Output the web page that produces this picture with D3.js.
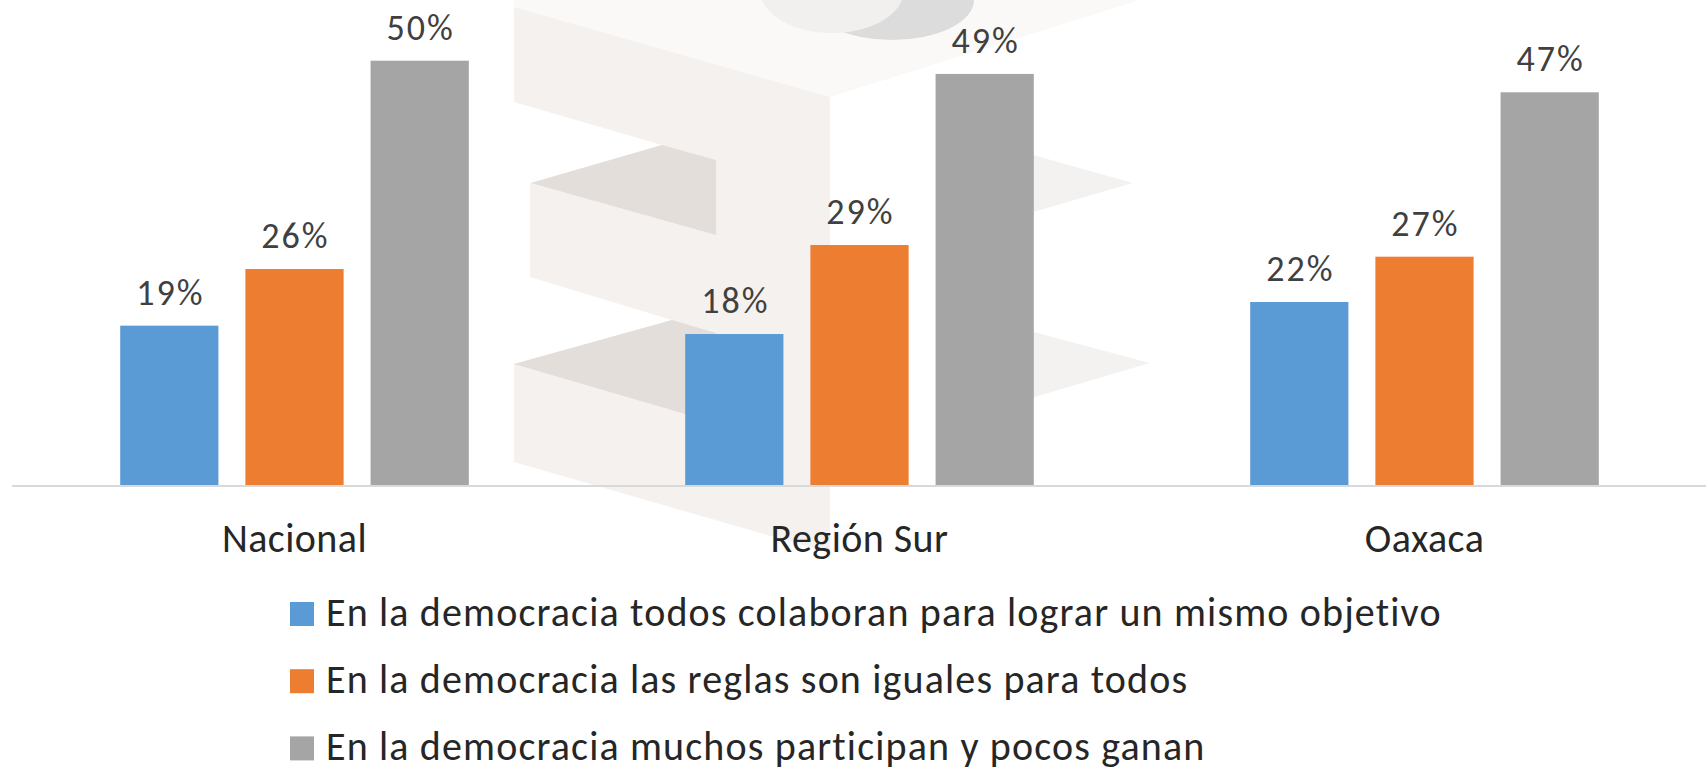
<!DOCTYPE html>
<html>
<head>
<meta charset="utf-8">
<script src="https://cdn.jsdelivr.net/npm/d3@7"></script>
<style>
  html, body { margin: 0; padding: 0; background: #fff; }
  svg text { font-family: Carlito, Lato, "Open Sans", sans-serif; }
</style>
</head>
<body>
<div id="chart"></div>
<script>
// categories and series
const categories = ["Nacional", "Región Sur", "Oaxaca"];
const seriesNames = [
  "En la democracia todos colaboran para lograr un mismo objetivo",
  "En la democracia las reglas son iguales para todos",
  "En la democracia muchos participan y pocos ganan"
];
const todosColaboran = [0.1897, 0.1798, 0.2177];
const reglasIguales = [0.2567, 0.2851, 0.2713];
const pocosGanan = [0.5032, 0.4875, 0.4658];
const colors = ["#5B9BD5", "#ED7D31", "#A5A5A5"];

const seriesValues = [todosColaboran, reglasIguales, pocosGanan];

const width = 1706, height = 768;
const baseY = 486;

const svg = d3.select("#chart").append("svg")
  .attr("width", width)
  .attr("height", height);

// faint logo watermark behind the middle group
const wm = svg.append("g").attr("class", "watermark");
wm.append("polygon")
  .attr("points", "514,0 514,7 830,97 1140,0")
  .attr("fill", "#fbf9f8");
wm.append("polygon")
  .attr("points", "514,7 830,97 830,553 514,462 514,364 672,320 530,277 530,183 662,145 514,102")
  .attr("fill", "#f4f1ef");
wm.append("polygon")
  .attr("points", "531,183 662,145 716,160 716,235")
  .attr("fill", "#e4dedb");
wm.append("polygon")
  .attr("points", "514,364 672,320 716,333 716,423")
  .attr("fill", "#e4dedb");
wm.append("polygon")
  .attr("points", "940,129 1133,183 940,239")
  .attr("fill", "#f4f2f1");
wm.append("polygon")
  .attr("points", "940,307 1150,363 940,425")
  .attr("fill", "#f4f2f1");
wm.append("ellipse")
  .attr("cx", 892).attr("cy", 0).attr("rx", 82).attr("ry", 40)
  .attr("fill", "#dcdcdc");
wm.append("ellipse")
  .attr("cx", 832).attr("cy", -10).attr("rx", 72).attr("ry", 43)
  .attr("fill", "#f2f0ee");

const x0 = d3.scaleBand()
  .domain(categories)
  .range([12, 1707])
  .paddingInner(0.383)
  .paddingOuter(0.1915);

const x1 = d3.scaleBand()
  .domain(d3.range(seriesNames.length))
  .range([0, x0.bandwidth()])
  .paddingInner(0.2155)
  .paddingOuter(0);

const y = d3.scaleLinear()
  .domain([0, 0.575])
  .range([baseY, 0]);

const fmt = d3.format(".0%");

const groups = svg.selectAll("g.cat")
  .data(categories)
  .join("g")
  .attr("class", "cat")
  .attr("transform", d => `translate(${x0(d)},0)`);

groups.selectAll("rect")
  .data((d, i) => seriesValues.map((vals, s) => ({s: s, v: vals[i]})))
  .join("rect")
  .attr("x", d => x1(d.s))
  .attr("y", d => y(d.v))
  .attr("width", x1.bandwidth())
  .attr("height", d => baseY - y(d.v))
  .attr("fill", d => colors[d.s]);

groups.selectAll("text.lbl")
  .data((d, i) => seriesValues.map((vals, s) => ({s: s, v: vals[i]})))
  .join("text")
  .attr("class", "lbl")
  .attr("x", d => x1(d.s) + x1.bandwidth() / 2)
  .attr("y", d => y(d.v) - 21)
  .attr("dx", 1)
  .attr("text-anchor", "middle")
  .style("font-size", "36px")
  .style("letter-spacing", "2px")
  .style("fill", "#404040")
  .text(d => fmt(d.v));

// category axis: only the baseline and the labels, no ticks
const xAxis = svg.append("g")
  .attr("transform", `translate(0,${baseY})`)
  .call(d3.axisBottom(x0).tickSize(0).tickPadding(0));
xAxis.select(".domain")
  .attr("d", "M12,0H1706")
  .attr("stroke", "#d9d9d9")
  .attr("stroke-width", 2);
xAxis.selectAll(".tick text")
  .attr("dy", null)
  .attr("y", 66)
  .style("font-size", "40px")
  .style("letter-spacing", "0.45px")
  .style("fill", "#262626");

// legend, one entry per row
const legend = svg.append("g").attr("class", "legend");
const rows = legend.selectAll("g")
  .data(seriesNames)
  .join("g")
  .attr("transform", (d, i) => `translate(290,${626 + i * 67.2})`);
rows.append("rect")
  .attr("x", 0)
  .attr("y", -24)
  .attr("width", 24)
  .attr("height", 24)
  .attr("fill", (d, i) => colors[i]);
rows.append("text")
  .attr("x", 36)
  .attr("y", 0)
  .style("font-size", "40px")
  .style("letter-spacing", "1.15px")
  .style("fill", "#262626")
  .text(d => d);
</script>
</body>
</html>
